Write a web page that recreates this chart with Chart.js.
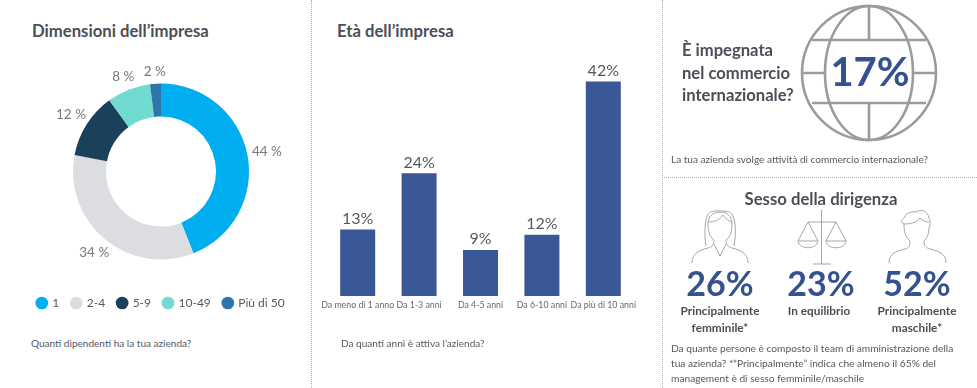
<!DOCTYPE html>
<html lang="it">
<head>
<meta charset="utf-8">
<script src="https://cdn.jsdelivr.net/npm/chart.js@4"></script>
<style>
html, body { margin: 0; padding: 0; background: #fff; overflow: hidden; }
body { width: 977px; height: 388px; position: relative; font-family: Lato, sans-serif; color: #4b4e57; }
canvas { position: absolute; }
.t { position: absolute; white-space: nowrap; line-height: 1; }
.title { font-weight: 700; font-size: 16.7px; }
.cap { font-size: 10.05px; color: #55585f; }
.big { font-weight: 700; font-size: 34px; color: #34528f; transform: translateX(-50%); }
.lab { font-weight: 700; font-size: 11.8px; transform: translateX(-50%); }
.sep { position: absolute; border: 0 dotted #b0b0b0; }
svg { position: absolute; left: 0; top: 0; }
</style>
</head>
<body>
<div class="sep" style="left:311px;top:0;height:388px;border-left-width:1px"></div>
<div class="sep" style="left:662px;top:0;height:388px;border-left-width:1px"></div>
<div class="sep" style="left:662px;top:177px;width:315px;border-top-width:1px"></div>

<div class="t title" style="left:32px;top:23px">Dimensioni dell’impresa</div>
<canvas id="sizeChart" style="left:0;top:50px;width:322px;height:269px"></canvas>
<div class="t cap" style="left:31px;top:338px">Quanti dipendenti ha la tua azienda?</div>

<div class="t title" style="left:337px;top:23px">Età dell’impresa</div>
<canvas id="ageChart" style="left:310px;top:56px;width:350px;height:262px"></canvas>
<div class="t cap" style="left:341px;top:338px">Da quanti anni è attiva l’azienda?</div>

<svg width="977" height="388" fill="none" stroke="#9b9b9b">
  <g stroke-width="2.6">
    <circle cx="869" cy="73" r="67"/>
    <ellipse cx="869" cy="73" rx="44" ry="67"/>
    <path d="M869 6V40M869 103V140M812 40H926M812 103H926M802 73H825M913 73H936"/>
  </g>
  <g stroke-width="1" stroke="#a5a5a5">
    <path d="M692 263C692 253 700 250 708 248C712 247 714 245 714 240C709 236 708 230 708 224C708 216 713 212 720 212C727 212 732 216 732 224C732 230 731 236 726 240C726 245 728 247 732 248C740 250 748 253 748 263"/>
    <path d="M706 246C704 235 705 222 707 216C710 210 715 211 720 211C726 211 731 211 733 216C736 222 736 236 734 246"/>
    <path d="M708 222C714 222 720 220 723 215C726 219 729 221 732 222"/>
    <path d="M714 244L720 256L726 244"/>
    <path d="M821.5 210V264M813 264H831M808 222H836M808 222L798 241H818ZM836 222L826 241H846ZM798 241C799 250 817 250 818 241M826 241C827 250 845 250 846 241"/>
    <path d="M889 263C889 253 897 251 905 249C909 248 910 246 910 241C905 237 904 231 904 224C899 222 903 219 905 217C905 213 912 211 917 212C922 208 928 212 929 218C931 222 930 226 929 228C929 234 927 238 924 241C924 246 926 248 930 249C938 251 946 253 946 263"/>
    <path d="M904 224C910 224 916 223 920 218C923 221 926 222 929 222"/>
  </g>
</svg>

<div class="t" style="left:682px;top:39px;font-weight:700;font-size:16.6px;line-height:22.5px">È impegnata<br>nel commercio<br>internazionale?</div>
<div class="t" id="tradeValue" style="left:870px;top:51px;font-size:40px;font-weight:700;color:#34528f;transform:translateX(-50%)"></div>
<div class="t cap" style="left:671px;top:154px">La tua azienda svolge attività di commercio internazionale?</div>

<div class="t title" style="left:821px;top:191px;transform:translateX(-50%)">Sesso della dirigenza</div>
<div class="t big" id="g0" style="left:720px;top:266px"></div>
<div class="t big" id="g1" style="left:821px;top:266px"></div>
<div class="t big" id="g2" style="left:917px;top:266px"></div>
<div class="t lab" style="left:720px;top:302px;line-height:17px;text-align:center">Principalmente<br>femminile*</div>
<div class="t lab" style="left:819px;top:302px;line-height:17px;text-align:center">In equilibrio</div>
<div class="t lab" style="left:917px;top:302px;line-height:17px;text-align:center">Principalmente<br>maschile*</div>
<div class="t" style="left:671px;top:341px;font-size:10.2px;line-height:15px;color:#55585f">Da quante persone è composto il team di amministrazione della<br>tua azienda? *“Principalmente” indica che almeno il 65% del<br>management è di sesso femminile/maschile</div>

<script>
const sizeLabels = ['1', '2-4', '5-9', '10-49', 'Più di 50'];
const sizeValues = [44, 34, 12, 8, 2];
const sizeColors = ['#00aeef', '#dcdde0', '#1a405c', '#72dbcf', '#2f75ab'];

const ageLabels = ['Da meno di 1 anno', 'Da 1-3 anni', 'Da 4-5 anni', 'Da 6-10 anni', 'Da più di 10 anni'];
const ageValues = [13, 24, 9, 12, 42];

const tradeValue = 17;
const genderValues = [26, 23, 52];

document.getElementById('tradeValue').textContent = tradeValue + '%';
genderValues.forEach((v, i) => { document.getElementById('g' + i).textContent = v + '%'; });

Chart.defaults.font.family = 'Lato, sans-serif';
Chart.defaults.animation = false;

const sizeChart = new Chart(document.getElementById('sizeChart'), {
    type: 'doughnut',
    data: {
        labels: sizeLabels,
        datasets: [{
            data: sizeValues,
            backgroundColor: sizeColors,
            borderWidth: 0,
            radius: 88,
            cutout: '62.5%'
        }]
    },
    options: {
        responsive: false,
        layout: { padding: { top: 8.5 } },
        plugins: {
            tooltip: { enabled: false },
            legend: {
                position: 'bottom',
                labels: {
                    usePointStyle: true,
                    pointStyle: 'circle',
                    boxWidth: 9,
                    boxHeight: 9,
                    padding: 12.5,
                    color: '#55585f',
                    font: { size: 12 }
                }
            }
        }
    },
    plugins: [{
        id: 'sliceLabels',
        afterDatasetsDraw(chart) {
            const c = chart.ctx;
            c.save();
            c.font = '13.5px Lato, sans-serif';
            c.fillStyle = '#77797e';
            c.textAlign = 'center';
            c.textBaseline = 'middle';
            chart.getDatasetMeta(0).data.forEach((el, i) => {
                const a = (el.startAngle + el.endAngle) / 2;
                const r = el.outerRadius + 11 + 9 * Math.abs(Math.cos(a));
                c.fillText(sizeValues[i] + ' %', el.x + r * Math.cos(a), el.y + r * Math.sin(a));
            });
            c.restore();
        }
    }]
});

const ageChart = new Chart(document.getElementById('ageChart'), {
    type: 'bar',
    data: {
        labels: ageLabels,
        datasets: [{
            data: ageValues,
            backgroundColor: '#3a5897',
            barPercentage: 0.57,
            categoryPercentage: 1
        }]
    },
    options: {
        responsive: false,
        layout: { padding: { left: 17, right: 26, top: 5, bottom: 7.5 } },
        plugins: {
            legend: { display: false },
            tooltip: { enabled: false }
        },
        scales: {
            x: {
                grid: { display: false, tickLength: 4 },
                border: { display: false },
                ticks: {
                    autoSkip: false,
                    maxRotation: 0,
                    color: '#66686e',
                    padding: 0,
                    font: { size: 8.8 }
                }
            },
            y: {
                display: false,
                min: 0,
                max: 46
            }
        }
    },
    plugins: [{
        id: 'barLabels',
        afterDatasetsDraw(chart) {
            const c = chart.ctx;
            c.save();
            c.font = '16px Lato, sans-serif';
            c.fillStyle = '#55585f';
            c.textAlign = 'center';
            c.textBaseline = 'bottom';
            chart.getDatasetMeta(0).data.forEach((el, i) => {
                c.fillText(ageValues[i] + '%', el.x, el.y - 3);
            });
            c.restore();
        }
    }]
});
</script>
</body>
</html>
